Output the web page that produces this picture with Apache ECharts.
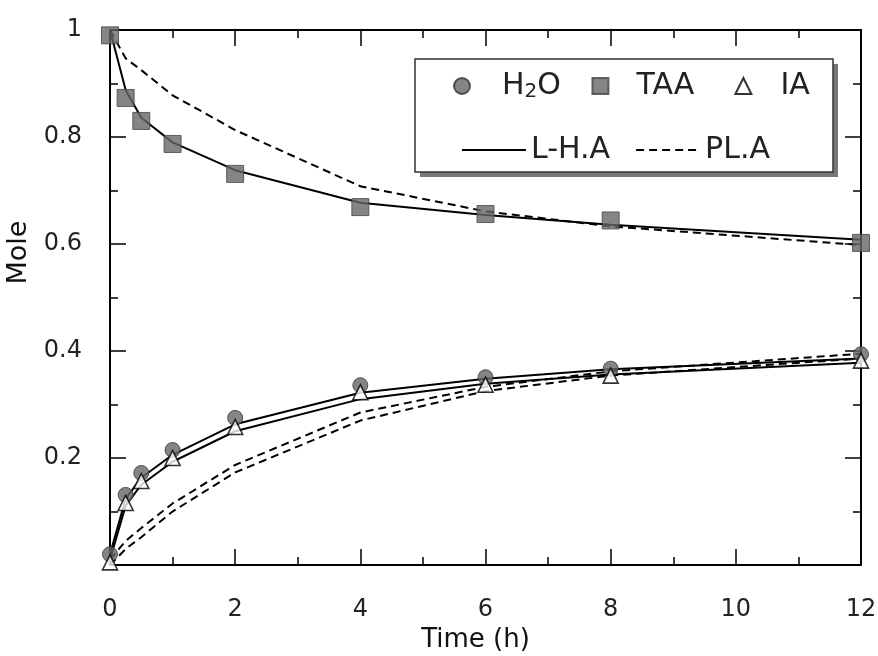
<!DOCTYPE html>
<html>
<head>
<meta charset="utf-8">
<script src="https://cdn.jsdelivr.net/npm/echarts@6/dist/echarts.min.js"></script>
<style>
  html, body { margin: 0; padding: 0; background: #fff; }
  #chart-container { width: 878px; height: 656px; }
</style>
</head>
<body>
<div id="chart-container"></div>
<script>
var dom = document.getElementById("chart-container");
var myChart = echarts.init(dom, null, { renderer: "canvas" });

// sampling times (h)
var time = [0, 0.25, 0.5, 1, 2, 4, 6, 8, 12];

// experimental points
var h2oExp = [0.02, 0.131, 0.172, 0.215, 0.275, 0.336, 0.351, 0.367, 0.394];
var taaExp = [0.99, 0.873, 0.83, 0.787, 0.731, 0.669, 0.656, 0.644, 0.602];
var iaExp = [0.005, 0.116, 0.157, 0.2, 0.258, 0.323, 0.337, 0.354, 0.382];

// L-H.A model
var lhaTaa = [1.0, 0.888, 0.836, 0.79, 0.738, 0.677, 0.654, 0.636, 0.608];
var lhaH2o = [0.02, 0.124, 0.163, 0.206, 0.263, 0.322, 0.348, 0.366, 0.386];
var lhaIa = [0.01, 0.111, 0.15, 0.193, 0.25, 0.31, 0.339, 0.356, 0.378];

// PL.A model
var plaTaa = [1.0, 0.947, 0.925, 0.878, 0.813, 0.708, 0.661, 0.633, 0.598];
var plaH2o = [0.01, 0.045, 0.069, 0.115, 0.187, 0.285, 0.333, 0.362, 0.395];
var plaIa = [0.0, 0.03, 0.052, 0.1, 0.173, 0.27, 0.325, 0.354, 0.386];

var xTicks = { min: 0, max: 12, interval: 2 };
var yTicks = { min: 0, max: 1, interval: 0.2 };

function pairs(ys) {
  return time.map(function (t, i) { return [t, ys[i]]; });
}

var font = "DejaVu Sans";
var markFill = "#666";

function modelLine(name, ys, dashed) {
  return {
    name: name,
    type: "line",
    data: pairs(ys),
    symbol: "none",
    z: 2,
    lineStyle: {
      color: "#000",
      width: 2,
      type: dashed ? [8, 5] : "solid",
    },
    // keeps the legend icon a bare line
    itemStyle: { color: "rgba(0,0,0,0)" },
  };
}

function expPoints(name, ys, symbol, size, style) {
  return {
    name: name,
    type: "scatter",
    data: pairs(ys),
    symbol: symbol,
    symbolSize: size,
    z: 5,
    itemStyle: style,
  };
}

var tickStyle = { color: "#000", width: 1.5 };
var minorTick = { show: true, splitNumber: 2, length: 8, lineStyle: tickStyle };

function frameAxis(extra) {
  return Object.assign({
    type: "value",
    axisLine: { onZero: false, lineStyle: { color: "#000", width: 2 } },
    axisTick: { inside: true, length: 16, lineStyle: tickStyle },
    minorTick: minorTick,
    splitLine: { show: false },
  }, extra);
}

var legendText = { fontFamily: font, fontSize: 30, color: "#222" };

var option = {
  animation: false,
  grid: { left: 110, right: 17, top: 30, bottom: 91, outerBoundsMode: "none" },
  xAxis: [
    frameAxis({
      min: xTicks.min, max: xTicks.max, interval: xTicks.interval,
      name: "Time (h)",
      nameLocation: "middle",
      nameGap: 61,
      nameTextStyle: { fontFamily: font, fontSize: 26, color: "#111", padding: [0, 20, 0, 0] },
      axisLabel: { fontFamily: font, fontSize: 24, color: "#222", margin: 33 },
    }),
    frameAxis({
      position: "top",
      min: xTicks.min, max: xTicks.max, interval: xTicks.interval,
      axisLabel: { show: false },
    }),
  ],
  yAxis: [
    frameAxis({
      min: yTicks.min, max: yTicks.max, interval: yTicks.interval,
      name: "Mole",
      nameLocation: "middle",
      nameGap: 49,
      nameTextStyle: { fontFamily: font, fontSize: 27, color: "#111", padding: [0, 0, 0, 90] },
      axisLabel: { fontFamily: font, fontSize: 24, color: "#222", margin: 28, showMinLabel: false },
    }),
    frameAxis({
      position: "right",
      min: yTicks.min, max: yTicks.max, interval: yTicks.interval,
      axisLabel: { show: false },
    }),
  ],
  legend: [
    {
      data: ["H2O", "TAA", "IA"],
      left: 453,
      top: 71,
      padding: 0,
      itemWidth: 16,
      itemHeight: 16,
      itemGap: 21,
      selectedMode: false,
      formatter: function (name) {
        if (name === "H2O") return "{h|H}{s|2}{t|O }";
        if (name === "TAA") return "{ta|TAA  }";
        return "{ia|IA}";
      },
      textStyle: {
        fontFamily: font,
        fontSize: 30,
        color: "#222",
        rich: {
          h: Object.assign({ padding: [0, 0, 0, 27] }, legendText),
          s: { fontFamily: font, fontSize: 20, color: "#222", verticalAlign: "bottom", padding: [12, 0, 0, 0] },
          t: Object.assign({}, legendText),
          ta: Object.assign({ padding: [0, 0, 0, 23] }, legendText),
          ia: Object.assign({ padding: [0, 0, 0, 24] }, legendText),
        },
      },
    },
    {
      data: ["L-H.A", "PL.A"],
      left: 461,
      top: 135,
      padding: 0,
      itemWidth: 64,
      itemHeight: 14,
      itemGap: 25,
      selectedMode: false,
      textStyle: legendText,
    },
  ],
  graphic: [
    {
      type: "rect",
      shape: { x: 420, y: 64, width: 418, height: 113 },
      style: { fill: "#777" },
      z: 0,
    },
    {
      type: "rect",
      shape: { x: 415, y: 59, width: 418, height: 113 },
      style: { fill: "#fff", stroke: "#333", lineWidth: 1.5 },
      z: 1,
    },
  ],
  series: [
    modelLine("L-H.A", lhaTaa, false),
    modelLine("L-H.A", lhaH2o, false),
    modelLine("L-H.A", lhaIa, false),
    modelLine("PL.A", plaTaa, true),
    modelLine("PL.A", plaH2o, true),
    modelLine("PL.A", plaIa, true),
    expPoints("H2O", h2oExp, "circle", 15, { color: markFill, borderColor: "#333", borderWidth: 1 }),
    expPoints("TAA", taaExp, "rect", 17, { color: markFill, borderColor: "#444", borderWidth: 1 }),
    expPoints("IA", iaExp, "triangle", 15, { color: "#fff", borderColor: "#000", borderWidth: 1.6 }),
  ],
};

myChart.setOption(option);

window.addEventListener("resize", function () {
  myChart.resize();
});
</script>
</body>
</html>
